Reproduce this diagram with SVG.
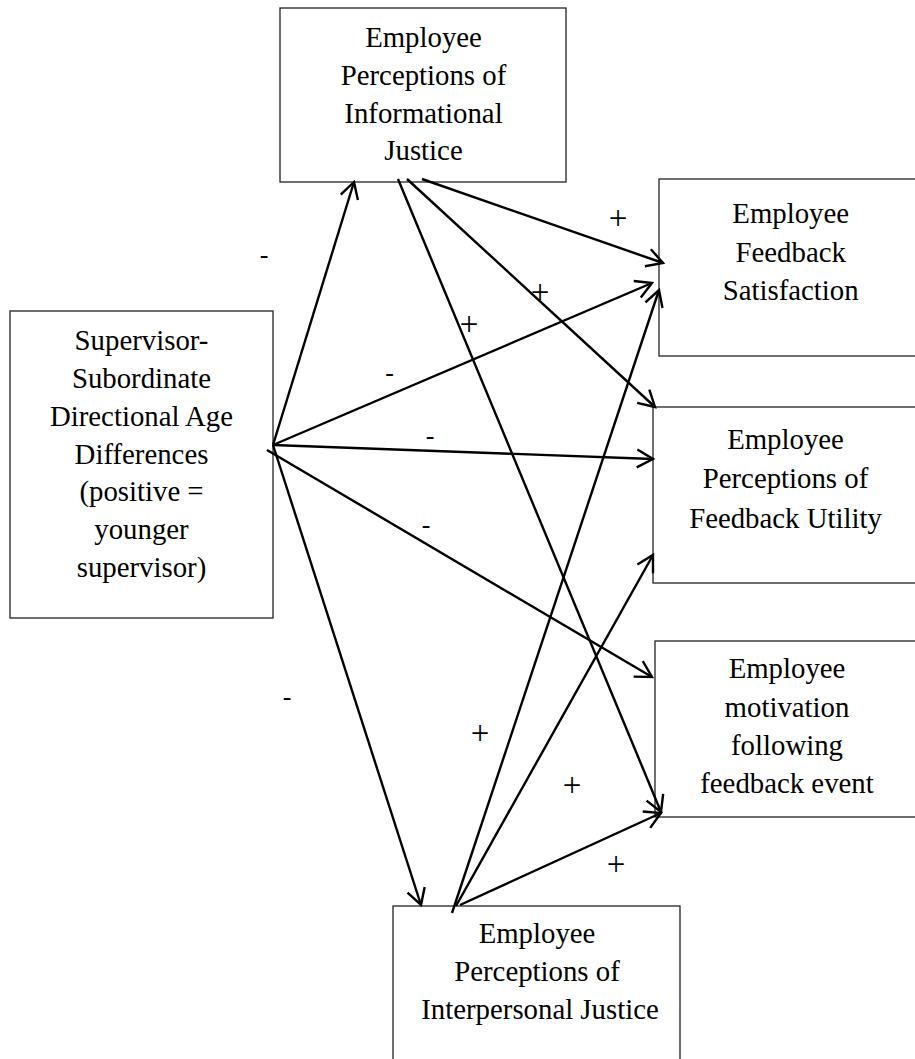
<svg xmlns="http://www.w3.org/2000/svg" width="915" height="1059" viewBox="0 0 915 1059">
<style>
.box{fill:#fff;stroke:#222;stroke-width:1.3}
.c{stroke:#000;stroke-width:2.4;fill:none;marker-end:url(#ah)}
</style>
<defs>
<marker id="ah" markerUnits="userSpaceOnUse" orient="auto" refX="0" refY="0" markerWidth="40" markerHeight="40" viewBox="-20 -20 40 40" overflow="visible">
<path d="M-16,-9 L0,0 L-16,9" fill="none" stroke="#000" stroke-width="2.4"/>
</marker>
</defs>
<rect width="915" height="1059" fill="#fff"/>
<g font-family="Liberation Serif, Times New Roman, DejaVu Serif, serif" font-size="28.8" text-anchor="middle" fill="#000">
<g id="n-info">
<rect class="box" x="280" y="8" width="286" height="174"/>
<text x="423.5" y="47">Employee</text>
<text x="423.5" y="85">Perceptions of</text>
<text x="423.5" y="122.5">Informational</text>
<text x="423.5" y="160">Justice</text>
</g>
<g id="n-age">
<rect class="box" x="10" y="311" width="263" height="307"/>
<text x="141.5" y="350">Supervisor-</text>
<text x="141.5" y="388">Subordinate</text>
<text x="141.5" y="426">Directional Age</text>
<text x="141.5" y="463.5">Differences</text>
<text x="141.5" y="501">(positive =</text>
<text x="141.5" y="539">younger</text>
<text x="141.5" y="577">supervisor)</text>
</g>
<g id="n-satisfaction">
<rect class="box" x="659" y="179" width="280" height="177"/>
<text x="790.7" y="223">Employee</text>
<text x="790.7" y="261.5">Feedback</text>
<text x="790.7" y="300">Satisfaction</text>
</g>
<g id="n-utility">
<rect class="box" x="653" y="407" width="290" height="176"/>
<text x="785.5" y="449">Employee</text>
<text x="785.5" y="488">Perceptions of</text>
<text x="785.5" y="528">Feedback Utility</text>
</g>
<g id="n-motivation">
<rect class="box" x="655" y="641" width="290" height="176"/>
<text x="787" y="678">Employee</text>
<text x="787" y="717">motivation</text>
<text x="787" y="755">following</text>
<text x="787" y="793">feedback event</text>
</g>
<g id="n-interpersonal">
<rect class="box" x="393" y="906" width="287" height="180"/>
<text x="537" y="943">Employee</text>
<text x="537" y="981">Perceptions of</text>
<text x="540" y="1019">Interpersonal Justice</text>
</g>
</g>
<g id="connectors">
<path class="c" d="M273,445 L354,182"/>
<path class="c" d="M273,445 L652,283"/>
<path class="c" d="M273,445 L653,459"/>
<path class="c" d="M267,450 L652,677"/>
<path class="c" d="M273,445 L421,905"/>
<path class="c" d="M398,179 L661,812"/>
<path class="c" d="M407,179 L655,407"/>
<path class="c" d="M422,179 L663,263"/>
<path class="c" d="M452,913 L659,290"/>
<path class="c" d="M456,906 L653,555"/>
<path class="c" d="M460,905 L661,813"/>
</g>
<g id="labels" font-family="Liberation Serif, Times New Roman, DejaVu Serif, serif" text-anchor="middle" fill="#000">
<g font-size="33">
<text x="618" y="228.5">+</text>
<text x="540" y="303">+</text>
<text x="469" y="334.5">+</text>
<text x="480" y="744">+</text>
<text x="572" y="796">+</text>
<text x="616" y="874.5">+</text>
</g>
<g font-size="26">
<text x="264" y="263">-</text>
<text x="389.5" y="380.5">-</text>
<text x="430" y="443.5">-</text>
<text x="426" y="533">-</text>
<text x="287" y="705">-</text>
</g>
</g>
</svg>
